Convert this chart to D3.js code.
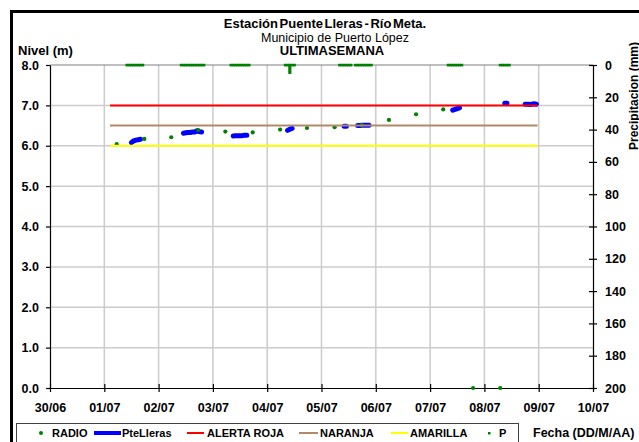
<!DOCTYPE html>
<html><head><meta charset="utf-8">
<script src="https://cdn.jsdelivr.net/npm/d3@7"></script>
<style>body{margin:0;background:#fff}svg{display:block;font-family:"Liberation Sans",Arial,sans-serif}</style>
</head><body><svg id="c" width="639" height="442"></svg>
<script>
// ---- data ----
const dayLabels = ["30/06","01/07","02/07","03/07","04/07","05/07","06/07","07/07","08/07","09/07","10/07"];
const levelTicks = [0,1,2,3,4,5,6,7,8];
const precipTicks = [0,20,40,60,80,100,120,140,160,180,200];

// hours since 30/06 00:00
const radioHours = [29.5,41.7,53.6,65.5,77.5,89.6,101.7,113.6,125.8,137.8,149.8,161.8,173.8,187.0,199.0];
const radioLevel = [6.04,6.17,6.21,6.39,6.35,6.33,6.40,6.44,6.46,6.51,6.64,6.78,6.90,0.0,0.0];

const pteHours = [36,37,38,39,40, 50,
  59,60,61,62,63,64,65,66,67, 75,
  81,82,83,84,85,86,87, 95,
  105,106,107, 120,
  130,131, 133,
  136,137,138,139,140,141, 160,
  178,179,180,181, 190,
  201,202, 206,
  210,211,212,213,214,215];
const pteLevel = [6.08,6.12,6.14,6.15,6.16, null,
  6.31,6.32,6.33,6.33,6.34,6.34,6.37,6.35,6.34, null,
  6.24,6.25,6.25,6.25,6.25,6.26,6.26, null,
  6.38,6.41,6.43, null,
  6.48,6.48, null,
  6.50,6.50,6.51,6.51,6.51,6.51, null,
  6.88,6.90,6.92,6.94, null,
  7.05,7.05, null,
  7.03,7.03,7.02,7.03,7.04,7.03];

const thresholdHours = [26.5, 215.5];
const alertaRoja = [7.0, 7.0];
const naranja = [6.5, 6.5];
const amarilla = [6.0, 6.0];

const pHours = [34,35,36,37,38,39,40,41,
  58,59,60,61,62,63,64,65,66,67,68,
  80,81,82,83,84,85,86,87,88,
  104,105,106,106,106,106,106,107,108,
  128,129,130,131,132,133,135,136,137,138,139,140,141,142,
  176,177,178,179,180,181,182,
  199,200,201,202,203];
const pMm = [0,0,0,0,0,0,0,0,
  0,0,0,0,0,0,0,0,0,0,0,
  0,0,0,0,0,0,0,0,0,
  0,0,0,1.2,2.4,3.6,4.7,0,0,
  0,0,0,0,0,0,0,0,0,0,0,0,0,0,
  0,0,0,0,0,0,0,
  0,0,0,0,0];

// ---- chart ----
const svg = d3.select("#c");
const L = 50, R = 593, T = 65, B = 388;
const x = d3.scaleLinear().domain([0, 240]).range([L, R]);
const y = d3.scaleLinear().domain([0, 8]).range([B, T]);
const yP = d3.scaleLinear().domain([0, 200]).range([T, B]);
const dayTicks = dayLabels.map((d, i) => i * 24);

// outer frame
svg.append("rect").attr("x", 11.5).attr("y", 11.5).attr("width", 700).attr("height", 500)
  .attr("fill", "none").attr("stroke", "#000").attr("stroke-width", 3);

// gridlines
svg.append("g").selectAll("line").data(levelTicks.filter(v => v > 0 && v < 8)).join("line")
  .attr("x1", L).attr("x2", R).attr("y1", d => y(d)).attr("y2", d => y(d))
  .attr("stroke", "#cccccc").attr("stroke-width", 1.5);
svg.append("g").selectAll("line").data(dayTicks.filter(v => v > 0 && v < 240)).join("line")
  .attr("x1", d => x(d)).attr("x2", d => x(d)).attr("y1", T).attr("y2", B)
  .attr("stroke", "#cccccc").attr("stroke-width", 1.5);
svg.append("line").attr("x1", L).attr("x2", R).attr("y1", y(8)).attr("y2", y(8))
  .attr("stroke", "#808080").attr("stroke-width", 1.2);

// axes
const fontAxis = g => g.selectAll("text").attr("font-weight", "bold").attr("font-size", 12.5).attr("fill", "#000")
  .attr("font-family", "'Liberation Sans',Arial,sans-serif");
const gl = svg.append("g").attr("transform", `translate(${L},0)`)
  .call(d3.axisLeft(y).tickValues(levelTicks).tickFormat(d3.format(".1f")).tickSize(4).tickSizeOuter(0).tickPadding(7));
gl.call(fontAxis);
const gr = svg.append("g").attr("transform", `translate(${R},0)`)
  .call(d3.axisRight(yP).tickValues(precipTicks).tickSize(4).tickSizeOuter(0).tickPadding(8));
gr.call(fontAxis);
gr.selectAll(".tick line").attr("x1", -4);
const gb = svg.append("g").attr("transform", `translate(0,${B})`)
  .call(d3.axisBottom(x).tickValues(dayTicks).tickFormat((d, i) => dayLabels[i]).tickSize(4).tickSizeOuter(0).tickPadding(11));
gb.call(fontAxis);
gb.selectAll(".tick line").attr("y1", -4);
[gl, gr, gb].forEach(g => { g.selectAll("line,path").attr("stroke", "#000").attr("stroke-width", 1.2); });

// PteLleras (thick blue)
const ptePts = pteHours.map((h, i) => ({h, v: pteLevel[i]}));
svg.append("path").datum(ptePts)
  .attr("d", d3.line().defined(d => d.v != null).x(d => x(d.h)).y(d => y(d.v)))
  .attr("fill", "none").attr("stroke", "#0000ff").attr("stroke-width", 5)
  .attr("stroke-linecap", "round").attr("stroke-linejoin", "round");

// RADIO
svg.append("g").selectAll("circle").data(radioHours.map((h, i) => ({h, v: radioLevel[i]}))).join("circle")
  .attr("cx", d => x(d.h)).attr("cy", d => y(d.v)).attr("r", 2.1).attr("fill", "#008000");

// thresholds
const thr = [[alertaRoja, "#ff0000"], [naranja, "#b08a66"], [amarilla, "#ffff00"]];
thr.forEach(([vals, col]) => {
  svg.append("path").datum(thresholdHours.map((h, i) => ({h, v: vals[i]})))
    .attr("d", d3.line().x(d => x(d.h)).y(d => y(d.v)))
    .attr("fill", "none").attr("stroke", col).attr("stroke-width", 2);
});

// P precipitation
svg.append("g").selectAll("rect").data(pHours.map((h, i) => ({h, v: pMm[i]}))).join("rect")
  .attr("x", d => x(d.h) - 1.5).attr("y", d => yP(d.v) - 1.2).attr("width", 3).attr("height", 2.6)
  .attr("fill", "#008000");

// titles
const tf = "'Liberation Sans',Arial,sans-serif";
svg.append("text").attr("x", 325).attr("y", 28).attr("text-anchor", "middle").attr("font-size", 13)
  .attr("font-weight", "bold").attr("word-spacing", -2).attr("font-family", tf).text("Estación Puente Lleras - Río Meta.");
svg.append("text").attr("x", 335).attr("y", 41.5).attr("text-anchor", "middle").attr("font-size", 12.5)
  .attr("font-family", tf).text("Municipio de Puerto López");
svg.append("text").attr("x", 332).attr("y", 55).attr("text-anchor", "middle").attr("font-size", 13)
  .attr("font-weight", "bold").attr("font-family", tf).text("ULTIMASEMANA");
svg.append("text").attr("x", 18).attr("y", 55).attr("font-size", 13)
  .attr("font-weight", "bold").attr("font-family", tf).text("Nivel (m)");
svg.append("text").attr("transform", "translate(638,96) rotate(-90)").attr("text-anchor", "middle")
  .attr("font-size", 12).attr("font-weight", "bold").attr("font-family", tf).text("Precipitacion (mm)");
svg.append("text").attr("x", 533).attr("y", 437).attr("font-size", 12.5)
  .attr("font-weight", "bold").attr("font-family", tf).text("Fecha (DD/M/AA)");

// legend
svg.append("rect").attr("x", 16.5).attr("y", 423.5).attr("width", 502).attr("height", 40)
  .attr("fill", "#fff").attr("stroke", "#404040").attr("stroke-width", 1);
const lg = svg.append("g").attr("font-family", tf).attr("font-size", 11).attr("font-weight", "bold");
const ly = 433;
lg.append("circle").attr("cx", 41).attr("cy", ly).attr("r", 2).attr("fill", "#008000");
lg.append("text").attr("x", 52).attr("y", ly + 4).text("RADIO");
lg.append("line").attr("x1", 94).attr("x2", 121).attr("y1", ly).attr("y2", ly).attr("stroke", "#0000ff").attr("stroke-width", 4);
lg.append("text").attr("x", 122).attr("y", ly + 4).text("PteLleras");
lg.append("line").attr("x1", 187).attr("x2", 204).attr("y1", ly).attr("y2", ly).attr("stroke", "#ff0000").attr("stroke-width", 2);
lg.append("text").attr("x", 207).attr("y", ly + 4).text("ALERTA ROJA");
lg.append("line").attr("x1", 299).attr("x2", 318).attr("y1", ly).attr("y2", ly).attr("stroke", "#b08a66").attr("stroke-width", 2);
lg.append("text").attr("x", 320).attr("y", ly + 4).text("NARANJA");
lg.append("line").attr("x1", 391).attr("x2", 408).attr("y1", ly).attr("y2", ly).attr("stroke", "#ffff00").attr("stroke-width", 2);
lg.append("text").attr("x", 410).attr("y", ly + 4).text("AMARILLA");
lg.append("rect").attr("x", 488).attr("y", ly - 1).attr("width", 2.5).attr("height", 2.5).attr("fill", "#008000");
lg.append("text").attr("x", 499).attr("y", ly + 4).text("P");
</script></body></html>
